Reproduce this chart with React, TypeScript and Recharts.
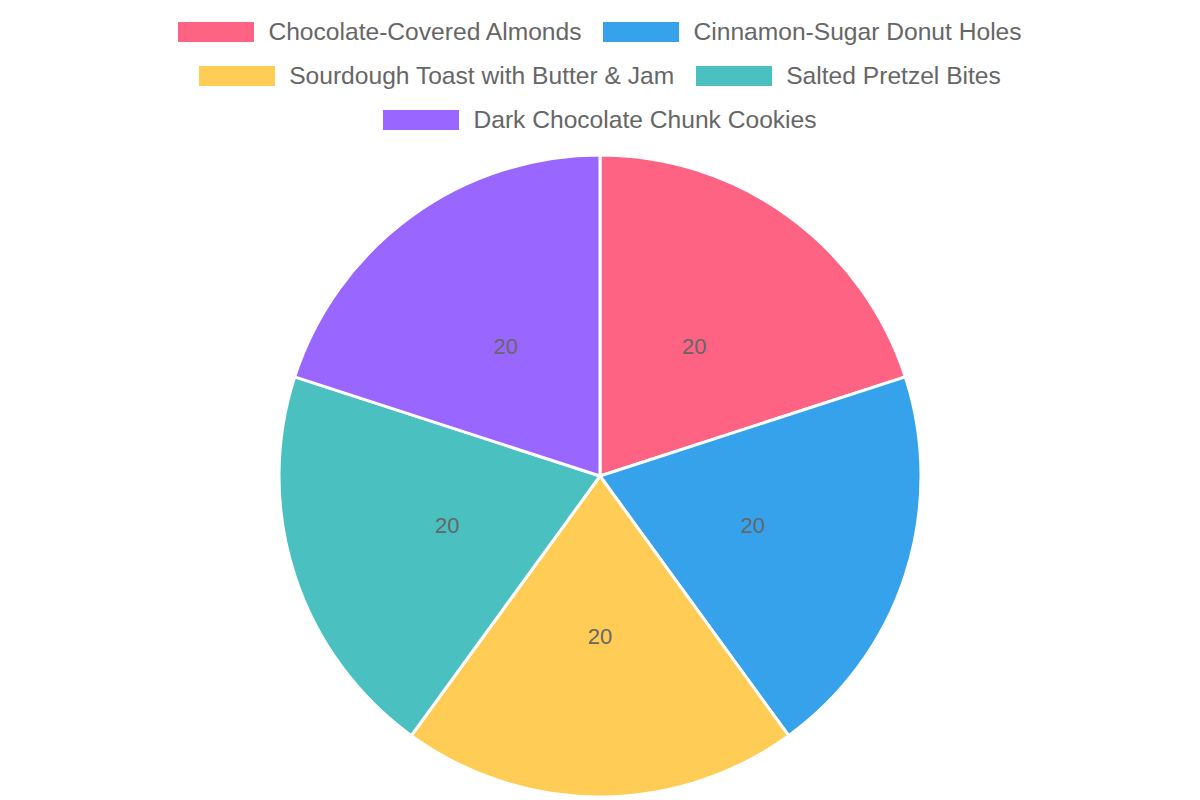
import { PieChart, Pie, Cell } from "recharts";

const snacks = [
  "Chocolate-Covered Almonds",
  "Cinnamon-Sugar Donut Holes",
  "Sourdough Toast with Butter & Jam",
  "Salted Pretzel Bites",
  "Dark Chocolate Chunk Cookies",
];
const shares = [20, 20, 20, 20, 20];
const colors = ["#FF6384", "#36A2EB", "#FFCD56", "#4BC0C0", "#9966FF"];

const data = snacks.map((name, i) => ({ name, value: shares[i] }));

const RAD = Math.PI / 180;
const FONT = "'Liberation Sans', Arial, sans-serif";

function SliceLabel(props: any) {
  const { cx, cy, midAngle, outerRadius, value } = props;
  const r = outerRadius * 0.5;
  const x = cx + r * Math.cos(-midAngle * RAD);
  const y = cy + r * Math.sin(-midAngle * RAD);
  return (
    <text
      x={x}
      y={y}
      fill="#666"
      fontSize={22}
      fontFamily={FONT}
      textAnchor="middle"
      dominantBaseline="central"
    >
      {value}
    </text>
  );
}

function LegendRows() {
  return (
    <div
      style={{
        position: "absolute",
        top: 10,
        left: 100,
        width: 1000,
        display: "flex",
        flexWrap: "wrap",
        justifyContent: "center",
        rowGap: 0,
        columnGap: 22,
        fontFamily: FONT,
        fontSize: 24.6,
        color: "#666",
      }}
    >
      {snacks.map((s, i) => (
        <div key={s} style={{ display: "flex", alignItems: "center", height: 44 }}>
          <span style={{ width: 76, height: 20, background: colors[i], marginRight: 14 }} />
          <span>{s}</span>
        </div>
      ))}
    </div>
  );
}

export default function App() {
  return (
    <div style={{ position: "absolute", left: 0, top: 0, width: 1200, height: 800, background: "#fff" }}>
      <PieChart width={1200} height={800} margin={{ top: 0, right: 0, bottom: 0, left: 0 }}>
        <Pie
          data={data}
          dataKey="value"
          nameKey="name"
          cx={600}
          cy={476}
          outerRadius={321}
          startAngle={90}
          endAngle={-270}
          stroke="#fff"
          strokeWidth={3}
          label={SliceLabel}
          labelLine={false}
          isAnimationActive={false}
        >
          {data.map((d, i) => (
            <Cell key={d.name} fill={colors[i]} />
          ))}
        </Pie>
      </PieChart>
      <LegendRows />
    </div>
  );
}
